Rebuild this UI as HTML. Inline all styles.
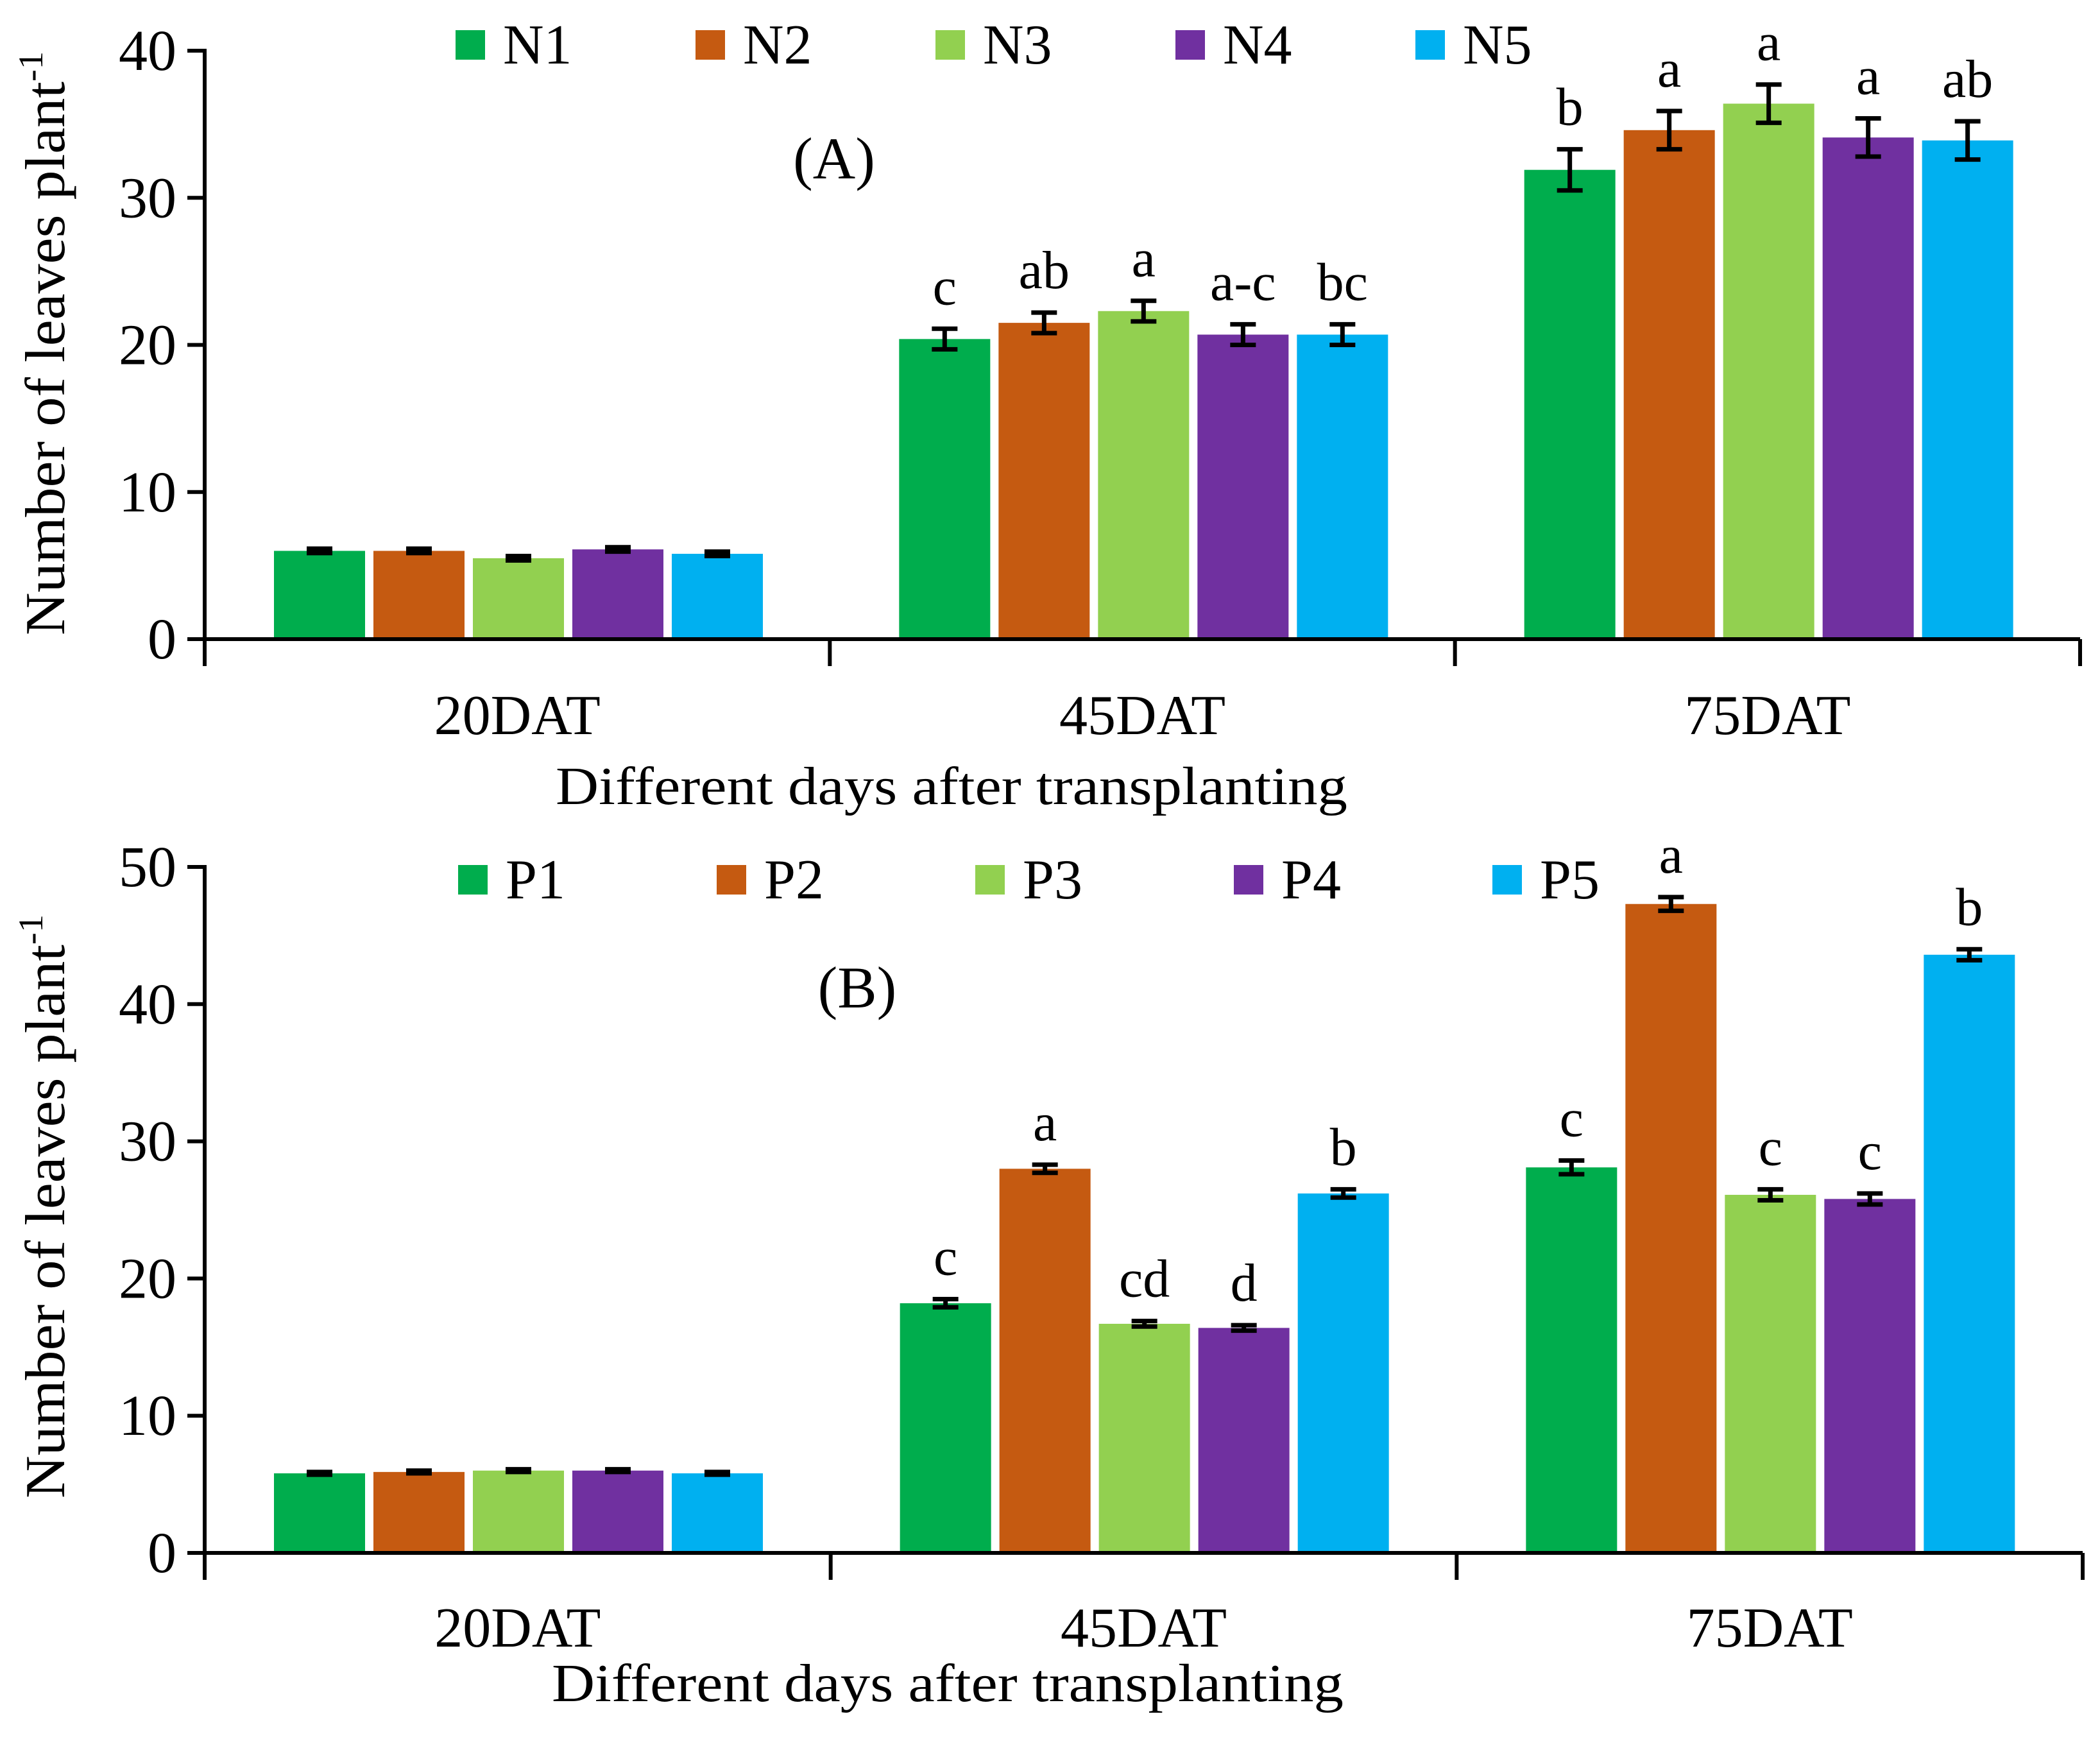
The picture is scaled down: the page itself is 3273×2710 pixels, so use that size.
<!DOCTYPE html>
<html><head><meta charset="utf-8"><style>
html,body{margin:0;padding:0;background:#fff;}
svg{display:block;}
svg text{font-family:"Liberation Serif","DejaVu Serif",serif;}
</style></head><body>
<svg id="chart" width="3273" height="2710" viewBox="0 0 3273 2710" xmlns="http://www.w3.org/2000/svg" font-family="Liberation Serif, serif"></svg>
<script>
const categories = ["20DAT","45DAT","75DAT"];
const colors = ["#00AD4D","#C55A11","#92D050","#7030A0","#00B0F0"];
const seriesA = ["N1","N2","N3","N4","N5"];
const valuesA = [[6.0,20.4,31.9],[6.0,21.5,34.6],[5.5,22.3,36.4],[6.1,20.7,34.1],[5.8,20.7,33.9]];
const errorsA = [[0.15,0.7,1.4],[0.15,0.7,1.3],[0.15,0.7,1.3],[0.15,0.7,1.3],[0.15,0.7,1.3]];
const lettersA = [["","c","b"],["","ab","a"],["","a","a"],["","a-c","a"],["","bc","ab"]];
const ticksA = [0,10,20,30,40];
const seriesB = ["P1","P2","P3","P4","P5"];
const valuesB = [[5.8,18.2,28.1],[5.9,28.0,47.3],[6.0,16.7,26.1],[6.0,16.4,25.8],[5.8,26.2,43.6]];
const errorsB = [[0.1,0.3,0.5],[0.1,0.3,0.5],[0.1,0.2,0.4],[0.1,0.2,0.4],[0.1,0.3,0.4]];
const lettersB = [["","c","c"],["","a","a"],["","cd","c"],["","d","c"],["","b","b"]];
const ticksB = [0,10,20,30,40,50];

const svg = document.getElementById('chart');
const NS = "http://www.w3.org/2000/svg";
const FF = '"Liberation Serif", serif';
function mk(tag, attrs, text){
  const e = document.createElementNS(NS, tag);
  for (const k in attrs) e.setAttribute(k, attrs[k]);
  if (tag === 'text') e.style.fontFamily = FF;
  if (text !== undefined) e.textContent = text;
  svg.appendChild(e);
  return e;
}

function panel(o){
  const x0 = 319, x1 = o.xEnd, catW = (x1 - x0) / 3;
  const yS = v => o.y0 - (v / o.max) * (o.y0 - o.yTop);
  const barW = 142, step = 155, off = 108;
  o.series.forEach((s, si) => {
    categories.forEach((c, ci) => {
      const v = o.values[si][ci];
      const bx = x0 + ci * catW + off + si * step;
      const r = mk('rect', {x: bx, y: yS(v), width: barW, height: o.y0 - yS(v), fill: colors[si]});
      
      
      const e = o.errors[si][ci], cx = bx + barW / 2;
      const g = mk('path', {d: `M${cx-20},${yS(v+e)}H${cx+20}M${cx},${yS(v+e)}V${yS(v-e)}M${cx-20},${yS(v-e)}H${cx+20}`, stroke: '#000', 'stroke-width': 7, fill: 'none'});
      
      
      const L = o.letters[si][ci];
      if (L) {
        const t = mk('text', {x: cx, y: yS(v + e) - 38, 'text-anchor': 'middle', 'font-size': 84}, L);
        
        
      }
    });
  });
  const ya = mk('line', {x1: x0, y1: yS(o.max) - 3, x2: x0, y2: o.y0 + 42, stroke: '#000', 'stroke-width': 6});
  
  
  const xa = mk('line', {x1: x0 - 27, y1: o.y0, x2: x1, y2: o.y0, stroke: '#000', 'stroke-width': 6});
  
  
  for (let i = 1; i <= 3; i++) {
    const tk = mk('line', {x1: x0 + i * catW, y1: o.y0, x2: x0 + i * catW, y2: o.y0 + 42, stroke: '#000', 'stroke-width': 6});
    
    
  }
  o.ticks.forEach(t => {
    const l = mk('line', {x1: x0 - 27, y1: yS(t), x2: x0, y2: yS(t), stroke: '#000', 'stroke-width': 6});
    
    
    const tx = mk('text', {x: 275, y: yS(t) + 30, 'text-anchor': 'end', 'font-size': 90}, String(t));
    
    
  });
  categories.forEach((c, ci) => {
    const t = mk('text', {x: x0 + ci * catW + catW / 2, y: o.catY, 'text-anchor': 'middle', 'font-size': 88}, c);
    
    
  });
  const xt = mk('text', {x: o.titleX, y: o.titleY, 'font-size': 84, textLength: 1234, lengthAdjust: 'spacingAndGlyphs'}, 'Different days after transplanting');
  
  
  const yt = mk('text', {x: 0, y: 0, 'font-size': 88, transform: `translate(100,${o.yTitleC}) rotate(-90)`, 'text-anchor': 'middle', textLength: 910, lengthAdjust: 'spacingAndGlyphs'});
  
  
  const a = document.createElementNS(NS, 'tspan'); a.textContent = 'Number of leaves plant'; yt.appendChild(a);
  const b = document.createElementNS(NS, 'tspan'); b.textContent = '-1'; b.setAttribute('font-size', 54); b.setAttribute('dy', -34); yt.appendChild(b);
  const pl = mk('text', {x: o.panelX, y: o.panelY, 'text-anchor': 'middle', 'font-size': 92}, o.panel);
  
  
  o.series.forEach((s, si) => {
    const lx = o.legX + si * o.legStep;
    const r = mk('rect', {x: lx, y: o.legY, width: 46, height: 46, fill: colors[si]});
    
    
    const t = mk('text', {x: lx + 74, y: o.legY + 52, 'font-size': 88}, s);
    
    
  });
}

panel({series: seriesA, values: valuesA, errors: errorsA, letters: lettersA, ticks: ticksA, max: 40,
  y0: 996, yTop: 79, xEnd: 3242, catY: 1144, titleX: 866, titleY: 1253, yTitleC: 535,
  panel: '(A)', panelX: 1300, panelY: 278, legX: 710, legY: 47, legStep: 374});
panel({series: seriesB, values: valuesB, errors: errorsB, letters: lettersB, ticks: ticksB, max: 50,
  y0: 2420, yTop: 1351, xEnd: 3246, catY: 2566, titleX: 860, titleY: 2651, yTitleC: 1880,
  panel: '(B)', panelX: 1336, panelY: 1570, legX: 714, legY: 1348, legStep: 403});
</script>
</body></html>
